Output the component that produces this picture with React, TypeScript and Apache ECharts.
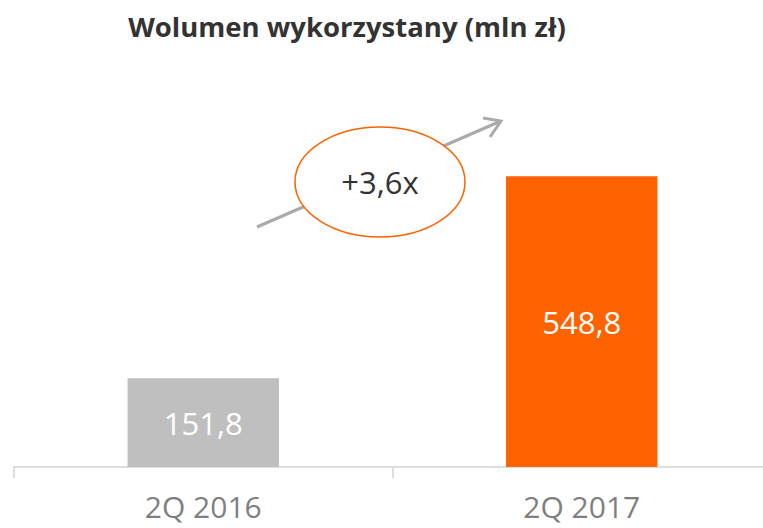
import React, { useEffect, useRef } from "react";
import * as echarts from "echarts";

const categories = ["2Q 2016", "2Q 2017"];
const volumes = [151.8, 548.8];
const barColors = ["#BFBFBF", "#FF6200"];
const titleText = "Wolumen wykorzystany (mln zł)";
const growthLabel = "+3,6x";

export default function App() {
  const ref = useRef<HTMLDivElement>(null);
  useEffect(() => {
    if (!ref.current) return;
    const chart = echarts.init(ref.current, undefined, { renderer: "svg" });
    const font = "'Open Sans', 'Noto Sans', sans-serif";
    chart.setOption({
      animation: false,
      title: {
        text: titleText,
        left: 342,
        top: 7,
        textAlign: "center",
        textStyle: { fontFamily: font, fontSize: 27.5, fontWeight: "bold", color: "#333333" },
      },
      grid: { left: 14, right: 0, top: 60, bottom: 61 },
      xAxis: {
        type: "category",
        data: categories,
        boundaryGap: true,
        axisLine: { onZero: false, lineStyle: { color: "#DEDEDE", width: 2 } },
        axisTick: { show: true, length: 11, lineStyle: { color: "#DEDEDE", width: 2 } },
        axisLabel: { fontFamily: font, fontSize: 30, color: "#7F7F7F", margin: 24 },
      },
      yAxis: {
        type: "value",
        min: -22.5,
        max: 777.5,
        startValue: -22.5,
        show: false,
        splitLine: { show: false },
      },
      series: [
        {
          type: "bar",
          barWidth: "40%",
          data: volumes.map((v, i) => ({ value: v, itemStyle: { color: barColors[i] } })),
          label: {
            show: true,
            position: "inside",
            color: "#FFFFFF",
            fontFamily: font,
            fontSize: 31,
            formatter: (p: any) => String(p.value).replace(".", ","),
          },
        },
      ],
      graphic: [
        {
          type: "line",
          shape: { x1: 257, y1: 227, x2: 501, y2: 121 },
          style: { stroke: "#AAAAAA", lineWidth: 3 },
        },
        {
          type: "polyline",
          shape: { points: [[483, 118], [501, 121], [490, 137]] },
          style: { stroke: "#AAAAAA", lineWidth: 3, fill: null },
        },
        {
          type: "ellipse",
          shape: { cx: 380, cy: 182, rx: 85, ry: 55 },
          style: { fill: "#FFFFFF", stroke: "#FF6200", lineWidth: 1.5 },
        },
        {
          type: "text",
          x: 380,
          y: 182,
          style: {
            text: growthLabel,
            fontFamily: font,
            fontSize: 31,
            fill: "#333333",
            textAlign: "center",
            textVerticalAlign: "middle",
          },
        },
      ],
    });
    return () => chart.dispose();
  }, []);
  return (
    <div
      style={{ position: "absolute", left: 0, top: 0, width: 763, height: 528, overflow: "hidden", background: "#FFFFFF" }}
    >
      <div ref={ref} style={{ width: 771, height: 528 }} />
    </div>
  );
}
